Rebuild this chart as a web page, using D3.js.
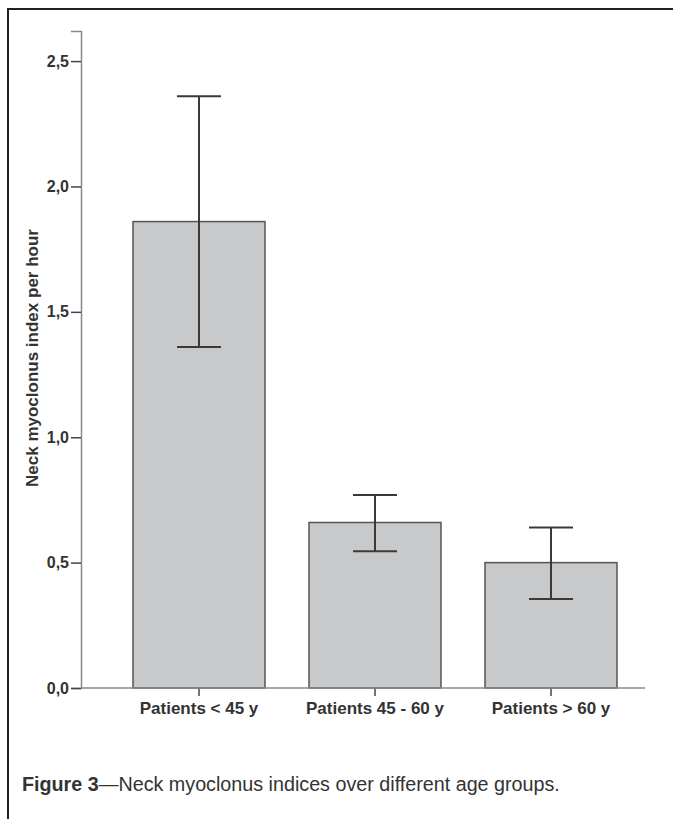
<!DOCTYPE html>
<html>
<head>
<meta charset="utf-8">
<script src="https://cdn.jsdelivr.net/npm/d3@7"></script>
<style>
  body { margin: 0; background: #fff; }
  text { font-family: "Liberation Sans", Arial, sans-serif; }
</style>
</head>
<body>
<div id="chart"></div>
<script>
// data
let groups = ["Patients < 45 y", "Patients 45 - 60 y", "Patients > 60 y"];
let means = [1.86, 0.66, 0.50];
let lower = [1.36, 0.545, 0.355];
let upper = [2.36, 0.77, 0.64];
let yTicks = [0, 0.5, 1.0, 1.5, 2.0, 2.5];

let width = 673, height = 819;

let svg = d3.select("#chart")
	.append("svg")
	.attr("width", width)
	.attr("height", height);

// frame (cropped at the right and bottom)
svg.append("path")
	.attr("d", "M8,830 L8,9 L680,9")
	.attr("fill", "none")
	.attr("stroke", "#222")
	.attr("stroke-width", 2);

let xScale = d3.scaleBand()
	.domain(groups)
	.range([133, 617])
	.paddingInner(0.25)
	.paddingOuter(0);

let yScale = d3.scaleLinear()
	.domain([0, 2.62])
	.range([688, 31]);

// bars
svg.selectAll(".bar")
	.data(groups)
	.enter()
	.append("rect")
	.attr("class", "bar")
	.attr("x", d => xScale(d))
	.attr("y", (d, i) => yScale(means[i]))
	.attr("width", xScale.bandwidth())
	.attr("height", (d, i) => yScale(0) - yScale(means[i]))
	.attr("fill", "#c8c9cb")
	.attr("stroke", "#555")
	.attr("stroke-width", 1.5);

// y axis
let yAxis = d3.axisLeft(yScale)
	.tickValues(yTicks)
	.tickSize(10)
	.tickPadding(2)
	.tickFormat(d => d3.format(".1f")(d).replace(".", ","));

let gy = svg.append("g")
	.attr("class", "yaxis")
	.attr("transform", "translate(81, 0)")
	.call(yAxis);
gy.select(".domain").attr("stroke", "#888").attr("stroke-width", 1.5);
gy.selectAll(".tick line").attr("stroke", "#444").attr("stroke-width", 1.5);
gy.selectAll(".tick text")
	.attr("fill", "#333")
	.style("font-size", "16px")
	.style("font-weight", "bold")
	.style("font-family", "'Liberation Sans', Arial, sans-serif");

// x axis
let xAxis = d3.axisBottom(xScale)
	.tickSize(8)
	.tickPadding(6)
	.tickSizeOuter(0);

let gx = svg.append("g")
	.attr("class", "xaxis")
	.attr("transform", "translate(0, 688)")
	.call(xAxis);
gx.select(".domain").remove();
gx.append("line")
	.attr("x1", 81).attr("x2", 645)
	.attr("y1", 0).attr("y2", 0)
	.attr("stroke", "#888")
	.attr("stroke-width", 1.5);
gx.selectAll(".tick line").attr("stroke", "#444").attr("stroke-width", 1.5);
gx.selectAll(".tick text")
	.attr("fill", "#333")
	.style("font-size", "17px")
	.style("font-weight", "bold")
	.style("font-family", "'Liberation Sans', Arial, sans-serif");

// error bars
let capHalf = 22;
let eb = svg.selectAll(".errbar")
	.data(groups)
	.enter()
	.append("g")
	.attr("class", "errbar")
	.attr("stroke", "#3a3a3a")
	.attr("stroke-width", 2);
eb.append("line")
	.attr("x1", d => xScale(d) + xScale.bandwidth() / 2)
	.attr("x2", d => xScale(d) + xScale.bandwidth() / 2)
	.attr("y1", (d, i) => yScale(lower[i]))
	.attr("y2", (d, i) => yScale(upper[i]));
eb.append("line")
	.attr("x1", d => xScale(d) + xScale.bandwidth() / 2 - capHalf)
	.attr("x2", d => xScale(d) + xScale.bandwidth() / 2 + capHalf)
	.attr("y1", (d, i) => yScale(upper[i]))
	.attr("y2", (d, i) => yScale(upper[i]));
eb.append("line")
	.attr("x1", d => xScale(d) + xScale.bandwidth() / 2 - capHalf)
	.attr("x2", d => xScale(d) + xScale.bandwidth() / 2 + capHalf)
	.attr("y1", (d, i) => yScale(lower[i]))
	.attr("y2", (d, i) => yScale(lower[i]));

// y axis title
svg.append("text")
	.attr("transform", "translate(38, 358) rotate(-90)")
	.attr("text-anchor", "middle")
	.style("font-size", "17px")
	.style("font-weight", "bold")
	.attr("fill", "#333")
	.text("Neck myoclonus index per hour");

// caption
let cap = svg.append("text")
	.attr("transform", "translate(22, 791) scale(0.94, 1)")
	.style("font-size", "21px")
	.attr("fill", "#333");
cap.append("tspan").style("font-weight", "bold").text("Figure 3");
cap.append("tspan").text("\u2014Neck myoclonus indices over different age groups.");
</script>
</body>
</html>
